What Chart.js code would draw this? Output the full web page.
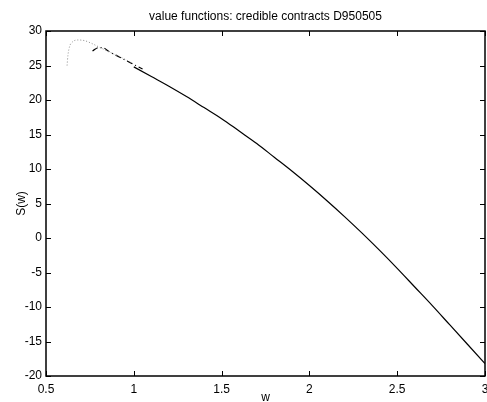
<!DOCTYPE html>
<html>
<head>
<meta charset="utf-8">
<script src="https://cdn.jsdelivr.net/npm/chart.js@4.4.1/dist/chart.umd.min.js"></script>
<style>
  html, body { margin: 0; padding: 0; background: #fff; }
  #wrap { width: 487px; height: 402px; }
</style>
</head>
<body>
<div id="wrap"><canvas id="line-chart"></canvas></div>
<script>
// values
var wDot = [0.62, 0.625, 0.635, 0.65, 0.68, 0.72, 0.76, 0.80, 0.85, 0.90, 0.95, 1.00];
var sDot = [25.0, 26.5, 27.8, 28.4, 28.7, 28.6, 28.2, 27.7, 27.1, 26.5, 25.9, 25.2];

var wDash = [0.765, 0.80, 0.82, 0.86, 0.92, 0.98, 1.05];
var sDash = [27.1, 27.6, 27.6, 27.0, 26.2, 25.4, 24.5];

var wSolid = [1.0, 1.1, 1.2, 1.3, 1.4, 1.5, 1.6, 1.7, 1.8, 1.9, 2.0,
              2.1, 2.2, 2.3, 2.4, 2.5, 2.6, 2.7, 2.8, 2.9, 3.0];
var sSolid = [24.8, 23.4, 22.0, 20.5, 18.9, 17.3, 15.5, 13.7, 11.7, 9.7, 7.6,
              5.4, 3.1, 0.7, -1.8, -4.4, -7.1, -9.8, -12.6, -15.4, -18.2];

var xTicks = [0.5, 1, 1.5, 2, 2.5, 3];
var yTicks = [-20, -15, -10, -5, 0, 5, 10, 15, 20, 25, 30];

function pts(xs, ys) {
    var out = [];
    for (var i = 0; i < xs.length; i++) out.push({x: xs[i], y: ys[i]});
    return out;
}

var FONT = "'Liberation Sans', Arial, Helvetica, sans-serif";
Chart.defaults.font.family = FONT;
Chart.defaults.color = '#000';

// matlab style box with ticks pointing inwards
var boxPlugin = {
    id: 'box',
    afterDatasetsDraw: function (chart) {
        var ctx = chart.ctx, a = chart.chartArea;
        var xs = chart.scales.x, ys = chart.scales.y;
        var len = 5;
        ctx.save();
        ctx.strokeStyle = '#000';
        ctx.lineWidth = 1;
        ctx.beginPath();
        xTicks.forEach(function (v) {
            var px = Math.round(xs.getPixelForValue(v)) + 0.5;
            ctx.moveTo(px, a.bottom); ctx.lineTo(px, a.bottom - len);
            ctx.moveTo(px, a.top); ctx.lineTo(px, a.top + len);
        });
        yTicks.forEach(function (v) {
            var py = Math.round(ys.getPixelForValue(v)) + 0.5;
            ctx.moveTo(a.left, py); ctx.lineTo(a.left + len, py);
            ctx.moveTo(a.right, py); ctx.lineTo(a.right - len, py);
        });
        ctx.stroke();
        ctx.lineWidth = 1.5;
        ctx.strokeRect(a.left, a.top, a.right - a.left, a.bottom - a.top);
        ctx.restore();
    }
};

function plain(v) { return String(v); }

var ctx = document.getElementById('line-chart');
var lineChart = new Chart(ctx, {
    type: 'scatter',
    data: {
        datasets: [{
            label: 'dotted',
            data: pts(wDot, sDot),
            showLine: true,
            borderColor: '#8a8a8a',
            borderWidth: 1,
            borderDash: [1, 2],
            cubicInterpolationMode: 'monotone',
            pointRadius: 0
        }, {
            label: 'dashdot',
            data: pts(wDash, sDash),
            showLine: true,
            borderColor: '#000',
            borderWidth: 1.2,
            borderDash: [6, 3, 1, 3],
            cubicInterpolationMode: 'monotone',
            pointRadius: 0
        }, {
            label: 'solid',
            data: pts(wSolid, sSolid),
            showLine: true,
            borderColor: '#000',
            borderWidth: 1.2,
            cubicInterpolationMode: 'monotone',
            pointRadius: 0
        }]
    },
    options: {
        responsive: true,
        maintainAspectRatio: false,
        animation: false,
        layout: { padding: { left: 0, right: 2, top: 0, bottom: 0 } },
        plugins: {
            legend: { display: false },
            tooltip: { enabled: false },
            title: {
                display: true,
                fullSize: false,
                text: 'value functions: credible contracts D950505',
                font: { size: 12, weight: 'normal', lineHeight: 1.2 },
                color: '#000',
                padding: { top: 9, bottom: 7.6 }
            }
        },
        scales: {
            x: {
                type: 'linear',
                min: 0.5, max: 3,
                afterBuildTicks: function (s) { s.ticks = xTicks.map(function (v) { return {value: v}; }); },
                afterFit: function (s) { s.height = 26; s.paddingLeft = 0; s.paddingRight = 0; },
                ticks: { font: { size: 12 }, padding: 6, maxRotation: 0, autoSkip: false, callback: plain },
                grid: { display: false, drawTicks: false },
                border: { display: false },
                title: { display: true, text: 'w', font: { size: 12, lineHeight: 1 }, padding: { top: 0, bottom: -2 } }
            },
            y: {
                type: 'linear',
                min: -20, max: 30,
                afterBuildTicks: function (s) { s.ticks = yTicks.map(function (v) { return {value: v}; }); },
                afterFit: function (s) { s.width = 46; s.paddingTop = 0; s.paddingBottom = 0; },
                ticks: { font: { size: 12 }, padding: 4, autoSkip: false, callback: plain },
                grid: { display: false, drawTicks: false },
                border: { display: false },
                title: { display: true, text: 'S(w)', font: { size: 12, lineHeight: 1.2 }, padding: { top: 14, bottom: 0 } }
            }
        }
    },
    plugins: [boxPlugin]
});
</script>
</body>
</html>
